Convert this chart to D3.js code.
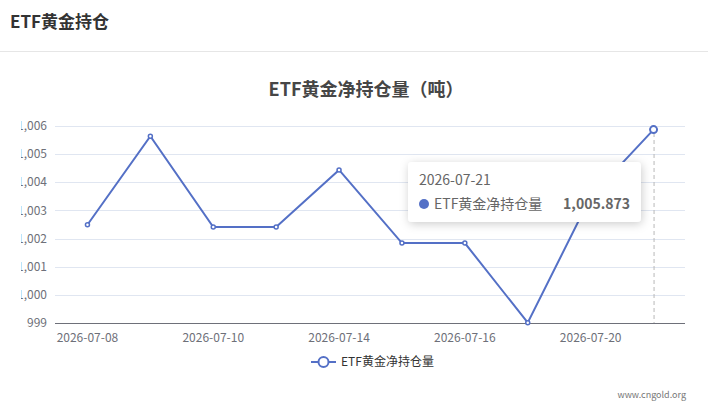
<!DOCTYPE html>
<html lang="zh-CN">
<head>
    <meta charset="UTF-8">
    <title>ETF黄金持仓</title>
    <script src="https://d3js.org/d3.v7.min.js"></script>
    <style>
        body {
            margin: 0;
            padding: 0;
            background: #fff;
            font-family: "Noto Sans CJK SC", "Noto Sans", sans-serif;
            width: 708px;
            height: 414px;
            overflow: hidden;
        }
        svg { display: block; }
    </style>
</head>
<body>
<div id="chart"></div>
<script>
// 日期与数据
const dates = ["2026-07-08", "2026-07-09", "2026-07-10", "2026-07-13", "2026-07-14",
               "2026-07-15", "2026-07-16", "2026-07-17", "2026-07-20", "2026-07-21"];
const holdings = [1002.49, 1005.64, 1002.41, 1002.41, 1004.44,
                  1001.84, 1001.84, 999.01, 1003.48, 1005.873];
const yTicks = [999, 1000, 1001, 1002, 1003, 1004, 1005, 1006];
const seriesName = "ETF黄金净持仓量";
const hoverIndex = 9;

const width = 708, height = 414;
const lineColor = "#5470c6";
const svg = d3.select("#chart").append("svg")
    .attr("width", width).attr("height", height);

// 页头
svg.append("text").attr("x", 10).attr("y", 28)
    .attr("font-size", 17).attr("font-weight", "bold").attr("fill", "#333")
    .text("ETF黄金持仓");
svg.append("line").attr("x1", 0).attr("x2", width).attr("y1", 51.5).attr("y2", 51.5)
    .attr("stroke", "#e6e6e6");

// 图表标题
svg.append("text").attr("x", 366).attr("y", 96).attr("text-anchor", "middle")
    .attr("font-size", 18).attr("font-weight", "bold").attr("fill", "#464646")
    .text("ETF黄金净持仓量（吨）");

const x = d3.scalePoint().domain(dates).range([56, 685]).padding(0.5);
const y = d3.scaleLinear().domain([999, 1006]).range([323, 126]);

// 左侧裁剪（y 轴标签被截断）
svg.append("clipPath").attr("id", "clipL")
    .append("rect").attr("x", 21).attr("y", 0).attr("width", width).attr("height", height);

// 网格线
svg.append("g").selectAll("line").data(yTicks.slice(1)).join("line")
    .attr("x1", 55).attr("x2", 685)
    .attr("y1", d => Math.round(y(d)) + 0.5).attr("y2", d => Math.round(y(d)) + 0.5)
    .attr("stroke", "#e0e6f1");

// y 轴标签
svg.append("g").attr("clip-path", "url(#clipL)")
    .selectAll("text").data(yTicks).join("text")
    .attr("x", 47).attr("y", d => y(d)).attr("dy", "0.35em")
    .attr("text-anchor", "end").attr("font-size", 12).attr("fill", "#6e7079")
    .text(d => d3.format(",")(d));

// x 轴
svg.append("line").attr("x1", 55).attr("x2", 685).attr("y1", 323.5).attr("y2", 323.5)
    .attr("stroke", "#6e7079");
svg.append("g").selectAll("text").data(dates.filter((d, i) => i % 2 === 0)).join("text")
    .attr("x", d => x(d)).attr("y", 342).attr("text-anchor", "middle")
    .attr("font-size", 12).attr("fill", "#6e7079")
    .text(d => d);

// 指示线
svg.append("line")
    .attr("x1", x(dates[hoverIndex]) + 0.5).attr("x2", x(dates[hoverIndex]) + 0.5)
    .attr("y1", 126).attr("y2", 323)
    .attr("stroke", "#b8b8b8").attr("stroke-dasharray", "4,3");

// 折线
const line = d3.line().x((d, i) => x(dates[i])).y(d => y(d));
svg.append("path").datum(holdings)
    .attr("d", line).attr("fill", "none")
    .attr("stroke", lineColor).attr("stroke-width", 2);

svg.append("g").selectAll("circle").data(holdings).join("circle")
    .attr("cx", (d, i) => x(dates[i])).attr("cy", d => y(d))
    .attr("r", (d, i) => i === hoverIndex ? 3.5 : 2)
    .attr("fill", "#fff").attr("stroke", lineColor)
    .attr("stroke-width", (d, i) => i === hoverIndex ? 2 : 1.5);

// 图例
const lg = svg.append("g").attr("transform", "translate(311,362)");
lg.append("line").attr("x1", 0).attr("x2", 25).attr("y1", 0).attr("y2", 0)
    .attr("stroke", lineColor).attr("stroke-width", 2);
lg.append("circle").attr("cx", 12.5).attr("cy", 0).attr("r", 5)
    .attr("fill", "#fff").attr("stroke", lineColor).attr("stroke-width", 2);
lg.append("text").attr("x", 30).attr("y", 0).attr("dy", "0.35em")
    .attr("font-size", 12).attr("fill", "#333").text(seriesName);

// 提示框
const defs = svg.append("defs");
const f = defs.append("filter").attr("id", "shadow")
    .attr("x", "-20%").attr("y", "-30%").attr("width", "140%").attr("height", "160%");
f.append("feDropShadow").attr("dx", 1).attr("dy", 2).attr("stdDeviation", 5)
    .attr("flood-color", "#000").attr("flood-opacity", 0.2);

const tip = svg.append("g").attr("transform", "translate(408,162)");
tip.append("rect").attr("width", 233).attr("height", 60).attr("rx", 4)
    .attr("fill", "#fff").attr("filter", "url(#shadow)");
tip.append("text").attr("x", 11).attr("y", 23)
    .attr("font-size", 14).attr("fill", "#666").text(dates[hoverIndex]);
tip.append("circle").attr("cx", 16).attr("cy", 42).attr("r", 5).attr("fill", lineColor);
tip.append("text").attr("x", 26).attr("y", 47)
    .attr("font-size", 14).attr("fill", "#666").text(seriesName);
tip.append("text").attr("x", 222).attr("y", 47).attr("text-anchor", "end")
    .attr("font-size", 14).attr("font-weight", "bold").attr("fill", "#666")
    .text(d3.format(",.3f")(holdings[hoverIndex]));

// 水印
svg.append("text").attr("x", 686).attr("y", 398).attr("text-anchor", "end")
    .attr("font-size", 9).attr("fill", "#777").text("www.cngold.org");
</script>
</body>
</html>
